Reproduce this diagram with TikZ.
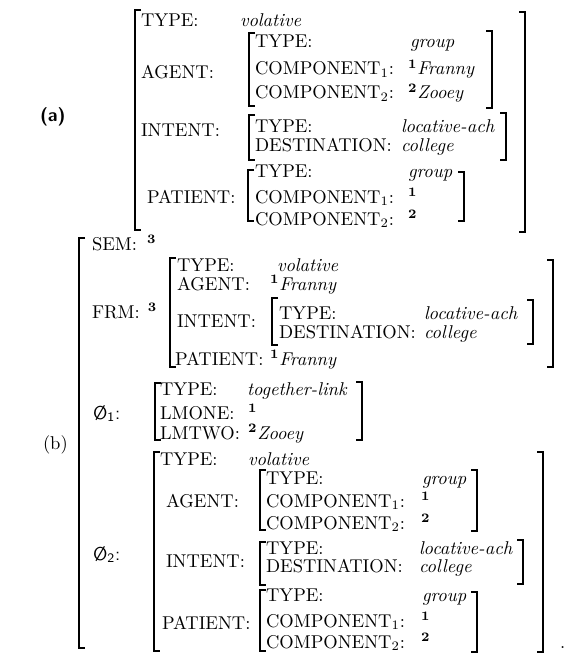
\documentclass[tikz,border=0pt]{standalone}
\usepackage{tikz}
\usetikzlibrary{positioning}

\begin{document}
\begin{tikzpicture}[
    x=0.54pt, y=-0.54pt,
    fld/.style={anchor=base west, inner sep=0pt, outer sep=0pt},
    val/.style={fld, font=\itshape},
    tag/.style={fld, font=\sffamily},
    brk/.style={line width=1.3pt},
]
\useasboundingbox (0,0) rectangle (568,656);

% (a) outer frame
\node[tag, font=\sffamily\bfseries] (aLabel) at (40,122) {(a)};
\draw[brk] (141,10) -- (135,10) |- (141,230);
\draw[brk] (519,12) -- (525,12) |- (519,232);

\node[fld] (aType) at (141,27) {TYPE:};
\node[val] (aTypeV) at (240,27) {volative};

\node[fld] (aAgent) at (141,79) {AGENT:};
\draw[brk] (255,33) -- (249,33) |- (255,106);
\draw[brk] (486,31) -- (492,31) |- (486,108);
\node[fld] (aAgType) at (255,48) {TYPE:};
\node[val] (aAgTypeV) at (410,48) {group};
\node[fld] (aAgComp1) at (255,75) {COMPONENT$_1$:};
\node[val] (aAgComp1V) at (408,75) {$^{\mathbf{1}}$Franny};
\node[fld] (aAgComp2) at (255,99) {COMPONENT$_2$:};
\node[val] (aAgComp2V) at (408,99) {$^{\mathbf{2}}$Zooey};

\node[fld] (aIntent) at (141,137) {INTENT:};
\draw[brk] (255,115) -- (249,115) |- (255,160);
\draw[brk] (500,113) -- (506,113) |- (500,160);
\node[fld] (aInType) at (255,133) {TYPE:};
\node[val] (aInTypeV) at (401,133) {locative-ach};
\node[fld] (aInDest) at (255,152) {DESTINATION:};
\node[val] (aInDestV) at (401,152) {college};

\node[fld] (aPatient) at (147,204) {PATIENT:};
\draw[brk] (254,170) -- (248,170) |- (254,221);
\draw[brk] (458,172) -- (464,172) |- (458,221);
\node[fld] (aPaType) at (255,178) {TYPE:};
\node[val] (aPaTypeV) at (408,178) {group};
\node[fld] (aPaComp1) at (255,203) {COMPONENT$_1$:};
\node[fld] (aPaComp1V) at (408,203) {$^{\mathbf{1}}$};
\node[fld] (aPaComp2) at (255,225) {COMPONENT$_2$:};
\node[fld] (aPaComp2V) at (408,225) {$^{\mathbf{2}}$};

% (b) outer frame
\node[fld] (bLabel) at (43,449) {(b)};
\draw[brk] (85,238) -- (79,238) |- (85,648);

\node[fld] (bSem) at (92,250) {SEM:};
\node[fld, right=10 of bSem.base east, anchor=base west] (bSemV) {$^{\mathbf{3}}$};

% FRM
\node[fld] (bFrm) at (92,318) {FRM:};
\node[fld, right=8 of bFrm.base east, anchor=base west] (bFrmV) {$^{\mathbf{3}}$};
\draw[brk] (176,258) -- (170,258) |- (176,367);
\draw[brk] (547,260) -- (553,260) |- (547,367);
\node[fld] (bFrType) at (177,271) {TYPE:};
\node[val] (bFrTypeV) at (277,271) {volative};
\node[fld] (bFrAgent) at (177,290) {AGENT:};
\node[val] (bFrAgentV) at (270,290) {$^{\mathbf{1}}$Franny};
\node[fld] (bFrIntent) at (177,327) {INTENT:};
\draw[brk] (278,298) -- (272,298) |- (278,345);
\draw[brk] (527,300) -- (533,300) |- (527,344);
\node[fld] (bFrInType) at (279,319) {TYPE:};
\node[val] (bFrInTypeV) at (424,319) {locative-ach};
\node[fld] (bFrInDest) at (279,338) {DESTINATION:};
\node[val] (bFrInDestV) at (424,338) {college};
\node[fld] (bFrPatient) at (175,365) {PATIENT:};
\node[val] (bFrPatientV) at (270,365) {$^{\mathbf{1}}$Franny};

% link 1
\node[tag] (bLink1) at (93,419) {Ø\textsubscript{1}:};
\draw[brk] (161,383) -- (155,383) |- (161,440);
\draw[brk] (356,382) -- (362,382) |- (356,440);
\node[fld] (bLkType) at (160,395) {TYPE:};
\node[val] (bLkTypeV) at (247,395) {together-link};
\node[fld] (bLkOne) at (160,419) {LMONE:};
\node[fld] (bLkOneV) at (248,419) {$^{\mathbf{1}}$};
\node[fld] (bLkTwo) at (160,439) {LMTWO:};
\node[val] (bLkTwoV) at (248,439) {$^{\mathbf{2}}$Zooey};

% link 2
\node[tag] (bLink2) at (93,560) {Ø\textsubscript{2}:};
\draw[brk] (160,452) -- (154,452) |- (160,651);
\draw[brk] (537,452) -- (543,452) |- (537,652);
\node[fld] (cType) at (160,465) {TYPE:};
\node[val] (cTypeV) at (248,465) {volative};

\node[fld] (cAgent) at (166,507) {AGENT:};
\draw[brk] (266,470) -- (260,470) |- (266,530);
\draw[brk] (471,470) -- (477,470) |- (471,531);
\node[fld] (cAgType) at (266,484) {TYPE:};
\node[val] (cAgTypeV) at (422,484) {group};
\node[fld] (cAgComp1) at (266,507) {COMPONENT$_1$:};
\node[fld] (cAgComp1V) at (421,507) {$^{\mathbf{1}}$};
\node[fld] (cAgComp2) at (266,529) {COMPONENT$_2$:};
\node[fld] (cAgComp2V) at (421,529) {$^{\mathbf{2}}$};

\node[fld] (cIntent) at (166,567) {INTENT:};
\draw[brk] (266,542) -- (260,542) |- (266,585);
\draw[brk] (517,540) -- (523,540) |- (517,584);
\node[fld] (cInType) at (266,554) {TYPE:};
\node[val] (cInTypeV) at (419,554) {locative-ach};
\node[fld] (cInDest) at (266,572) {DESTINATION:};
\node[val] (cInDestV) at (419,572) {college};

\node[fld] (cPatient) at (162,629) {PATIENT:};
\draw[brk] (266,590) -- (260,590) |- (266,651);
\draw[brk] (471,592) -- (477,592) |- (471,652);
\node[fld] (cPaType) at (266,601) {TYPE:};
\node[val] (cPaTypeV) at (422,601) {group};
\node[fld] (cPaComp1) at (266,627) {COMPONENT$_1$:};
\node[fld] (cPaComp1V) at (421,627) {$^{\mathbf{1}}$};
\node[fld] (cPaComp2) at (266,648) {COMPONENT$_2$:};
\node[fld] (cPaComp2V) at (421,648) {$^{\mathbf{2}}$};

\node[fld] (bStop) at (560,648) {.};
\end{tikzpicture}
\end{document}
